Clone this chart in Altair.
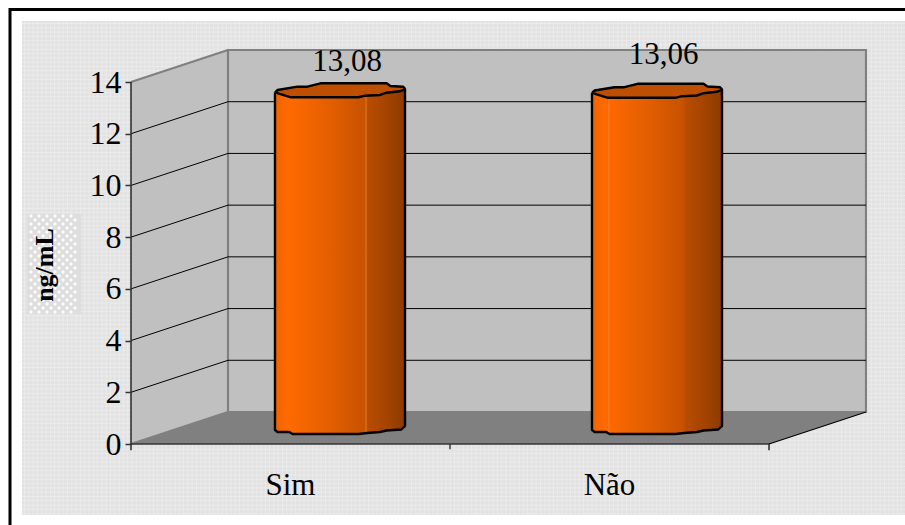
import altair as alt
import numpy as np
import pandas as pd

# Chart values
categories = ["Sim", "Não"]
values = [13.08, 13.06]
value_labels = ["13,08", "13,06"]
value_ticks = [0, 2, 4, 6, 8, 10, 12, 14]

# Oblique projection of the 3D box: category units across, value units up, depth 0..1
W, H = 905, 525
ORIGIN_X, ORIGIN_Y = 131.0, 444.0
PX_PER_CAT = 319.0
PX_PER_VAL = 25.857
DEPTH_X = 97.0 / PX_PER_CAT
DEPTH_Y = 32.0 / PX_PER_VAL
V_MAX = 14

x_scale = alt.Scale(domain=[(0 - ORIGIN_X) / PX_PER_CAT, (W - ORIGIN_X) / PX_PER_CAT], range=[0, W], nice=False, zero=False)
y_scale = alt.Scale(domain=[(ORIGIN_Y - H) / PX_PER_VAL, ORIGIN_Y / PX_PER_VAL], range=[H, 0], nice=False, zero=False)
X_NOAXIS = dict(scale=x_scale, axis=None)
Y_NOAXIS = dict(scale=y_scale, axis=None)


def project(c, v, d):
    return c + d * DEPTH_X, v + d * DEPTH_Y


def screen_x(px):
    return (px - ORIGIN_X) / PX_PER_CAT


def screen_y(py):
    return (ORIGIN_Y - py) / PX_PER_VAL


def polyline(points, **mark):
    rows = [dict(zip(("x", "y"), project(*p)), i=i) for i, p in enumerate(points)]
    return alt.Chart(pd.DataFrame(rows)).mark_line(**mark).encode(
        x=alt.X("x:Q", **X_NOAXIS),
        y=alt.Y("y:Q", **Y_NOAXIS),
        order="i:Q",
    )


# Back wall, side wall and floor
def upright_wall(ends):
    rows = []
    for c, d in ends:
        x, y0 = project(c, 0, d)
        _, y1 = project(c, V_MAX, d)
        rows.append({"x": x, "y": y0, "y2": y1})
    return alt.Chart(pd.DataFrame(rows)).mark_area(color="#c0c0c0").encode(
        x=alt.X("x:Q", **X_NOAXIS),
        y=alt.Y("y:Q", **Y_NOAXIS),
        y2="y2:Q",
    )


def floor():
    rows = []
    for d in (0, 1):
        x0, y = project(0, 0, d)
        x1, _ = project(2, 0, d)
        rows.append({"x": x0, "x2": x1, "y": y})
    return alt.Chart(pd.DataFrame(rows)).mark_area(color="#808080", orient="horizontal").encode(
        y=alt.Y("y:Q", **Y_NOAXIS),
        x=alt.X("x:Q", **X_NOAXIS),
        x2="x2:Q",
    )


# Outline of a cylinder: offsets across the bar (0..1) and in screen pixels from its centre line
BAR_WIDTH = 130.0 / PX_PER_CAT
BAR_NUDGE = [1.0 / PX_PER_CAT, -1.0 / PX_PER_CAT]
BACK_U = [0.0, 0.02, 0.173, 0.249, 0.35, 0.858, 0.888, 0.985, 1.0]
BACK_P = [2.5, 0.2, -3.1, -3.1, -6.5, -6.5, -3.8, -3.1, -1.0]
FRONT_U = [0.0, 0.122, 0.642, 0.693, 0.807, 0.858, 0.959, 1.0]
FRONT_P = [2.5, 7.5, 7.5, 5.9, 5.2, 2.9, 1.5, -0.5]
BASE_U = [0.0, 0.02, 0.109, 0.135, 0.643, 0.71, 0.807, 0.858, 0.972, 1.0]
BASE_P = [2.0, 4.0, 4.0, 6.0, 6.0, 5.0, 4.0, 2.5, 1.5, -2.0]

BODY_STOPS = [
    (0.0, "#f06400"), (0.10, "#ff6a00"), (0.30, "#ee6300"), (0.50, "#dc5b00"),
    (0.70, "#c65200"), (0.72, "#b84c00"), (0.85, "#a64400"), (1.0, "#8c3a00"),
]
body_fill = alt.Gradient(
    gradient="linear", x1=0, x2=1, y1=0, y2=0,
    stops=[alt.GradientStop(offset=o, color=c) for o, c in BODY_STOPS],
)


def bar_layers(index, value, sheen_u):
    left = index + 0.5 - BAR_WIDTH / 2 + 0.5 * DEPTH_X + BAR_NUDGE[index]
    mid_floor = 0.5 * DEPTH_Y
    top_v = value + mid_floor
    base_v = mid_floor

    def profile(us, ps, level):
        return left + np.array(us) * BAR_WIDTH, level - np.array(ps) / PX_PER_VAL

    bx, by = profile(BACK_U, BACK_P, top_v)
    fx, fy = profile(FRONT_U, FRONT_P, top_v)
    gx, gy = profile(BASE_U, BASE_P, base_v)

    xs = np.unique(np.concatenate([fx, gx]))
    body = pd.DataFrame({"x": xs, "y": np.interp(xs, gx, gy), "y2": np.interp(xs, fx, fy)})
    xs_top = np.unique(np.concatenate([bx, fx]))
    lid = pd.DataFrame({"x": xs_top, "y": np.interp(xs_top, fx, fy), "y2": np.interp(xs_top, bx, by)})

    def region(frame, color):
        return alt.Chart(frame).mark_area(color=color, line=False).encode(
            x=alt.X("x:Q", **X_NOAXIS),
            y=alt.Y("y:Q", **Y_NOAXIS),
            y2="y2:Q",
        )

    def stroke(xv, yv, **mark):
        frame = pd.DataFrame({"x": xv, "y": yv, "i": range(len(xv))})
        style = {"color": "#000000", "strokeWidth": 2.4, "strokeJoin": "round"}
        style.update(mark)
        return alt.Chart(frame).mark_line(**style).encode(
            x=alt.X("x:Q", **X_NOAXIS),
            y=alt.Y("y:Q", **Y_NOAXIS),
            order="i:Q",
        )

    sx = left + sheen_u * BAR_WIDTH
    sheen = stroke(
        [sx, sx], [float(np.interp(sx, gx, gy)), float(np.interp(sx, fx, fy))],
        color="#f08a40", strokeWidth=1, opacity=0.7,
    )

    shell_x = list(fx) + list(gx[::-1]) + [fx[0]]
    shell_y = list(fy) + list(gy[::-1]) + [fy[0]]
    return [
        region(body, body_fill),
        region(lid, "#bf4f00"),
        sheen,
        stroke(shell_x, shell_y),
        stroke(bx, by),
    ]


# Frame and panel, in screen space
one_row = pd.DataFrame({"a": [0]})
panel = alt.Chart(one_row).mark_rect(color="#e2e2e2").encode(
    x=alt.value(22), x2=alt.value(W), y=alt.value(21), y2=alt.value(515)
)
weave_v = alt.Chart(pd.DataFrame({"x": [screen_x(p) for p in np.arange(24.5, W, 4.3)]})).mark_rule(
    color="#ebebeb", strokeWidth=1
).encode(x=alt.X("x:Q", **X_NOAXIS), y=alt.value(21), y2=alt.value(515))
weave_h = alt.Chart(pd.DataFrame({"y": [screen_y(p) for p in np.arange(23.5, 515, 4.3)]})).mark_rule(
    color="#ebebeb", strokeWidth=1
).encode(y=alt.Y("y:Q", **Y_NOAXIS), x=alt.value(22), x2=alt.value(W))
frame_top = alt.Chart(one_row).mark_rule(color="#000000", strokeWidth=3).encode(
    x=alt.value(9), x2=alt.value(W), y=alt.value(9.5)
)
frame_left = alt.Chart(one_row).mark_rule(color="#000000", strokeWidth=3).encode(
    x=alt.value(10), y=alt.value(8), y2=alt.value(H)
)

# Axis title with its own stippled plate
plate = alt.Chart(one_row).mark_rect(color="#dedede").encode(
    x=alt.value(27), x2=alt.value(81), y=alt.value(214), y2=alt.value(314)
)
px_grid = [(27 + 4 + 8 * i + (4 if j % 2 else 0), 214 + 2 + 4 * j) for j in range(25) for i in range(6)]
stipple = alt.Chart(pd.DataFrame({
    "x": [screen_x(p[0]) for p in px_grid],
    "y": [screen_y(p[1]) for p in px_grid],
})).mark_point(shape="diamond", filled=True, color="#ffffff", size=16, opacity=0.9).encode(
    x=alt.X("x:Q", **X_NOAXIS),
    y=alt.Y("y:Q", **Y_NOAXIS),
)
y_title = alt.Chart(pd.DataFrame({
    "x": [screen_x(45)], "y": [screen_y(265)], "t": ["ng/mL"],
})).mark_text(font="Liberation Serif", fontWeight="bold", fontSize=26, angle=270, baseline="middle", align="center", color="#000000").encode(
    x=alt.X("x:Q", **X_NOAXIS),
    y=alt.Y("y:Q", **Y_NOAXIS),
    text="t:N",
)

# Value axis, pulled in to the front edge of the box and drawn above the panel
value_axis = alt.Chart(pd.DataFrame({"y": value_ticks})).mark_tick(opacity=0).encode(
    y=alt.Y("y:Q", scale=y_scale, axis=alt.Axis(
        values=value_ticks, orient="left", offset=-ORIGIN_X, domain=False, grid=False, title=None,
        tickColor="#333333", tickSize=6, tickWidth=1.5, labelFont="Liberation Serif", labelFontSize=32,
        labelColor="#000000", labelPadding=4, labelBaseline="middle", labelOverlap=False, zindex=1,
    ))
)

edge = dict(color="#808080", strokeWidth=2.2)
ink = dict(color="#000000", strokeWidth=1)
layers = [
    panel, weave_v, weave_h, frame_top, frame_left,
    upright_wall([(0, 1), (2, 1)]), upright_wall([(0, 0), (0, 1)]), floor(),
    polyline([(0, 0, 1), (0, V_MAX, 1), (2, V_MAX, 1), (2, 0, 1), (0, 0, 1)], **edge),
    polyline([(0, V_MAX, 0), (0, V_MAX, 1)], **edge),
    polyline([(0, 0, 0), (0, 0, 1)], **edge),
]
for v in value_ticks[1:-1]:
    layers.append(polyline([(0, v, 0), (0, v, 1), (2, v, 1)], **ink))
layers += [
    polyline([(0, 0, 0), (0, V_MAX, 0)], color="#333333", strokeWidth=1.6),
    polyline([(0, -0.24, 0), (0, 0, 0), (2, 0, 0), (2, -0.24, 0)], color="#333333", strokeWidth=1.6),
    polyline([(1, -0.2, 0), (1, 0, 0)], color="#333333", strokeWidth=1.4),
    polyline([(2, 0, 0), (2, 0, 1)], color="#000000", strokeWidth=1.2),
]
for i, (val, sheen_u) in enumerate(zip(values, (0.70, 0.13))):
    layers += bar_layers(i, val, sheen_u)

# Value labels and category names, placed in box coordinates
lab_rows = [
    {"x": screen_x(347), "y": screen_y(71), "t": value_labels[0]},
    {"x": screen_x(663.5), "y": screen_y(64), "t": value_labels[1]},
]
cat_rows = [{"x": i + 0.5, "y": screen_y(495), "t": c} for i, c in enumerate(categories)]
text_kw = dict(font="Liberation Serif", fontSize=31, color="#000000", baseline="alphabetic", align="center")
labels = alt.Chart(pd.DataFrame(lab_rows + cat_rows)).mark_text(**text_kw).encode(
    x=alt.X("x:Q", **X_NOAXIS),
    y=alt.Y("y:Q", **Y_NOAXIS),
    text="t:N",
)
layers += [plate, stipple, y_title, labels, value_axis]

chart = alt.layer(*layers).resolve_scale(y="independent").resolve_axis(y="independent").properties(
    width=W, height=H, padding=0,
    autosize=alt.AutoSizeParams(type="none"),
    background="#ffffff",
).configure_view(stroke=None)

chart.save("out.html", embed_options={"renderer": "svg", "actions": False})
